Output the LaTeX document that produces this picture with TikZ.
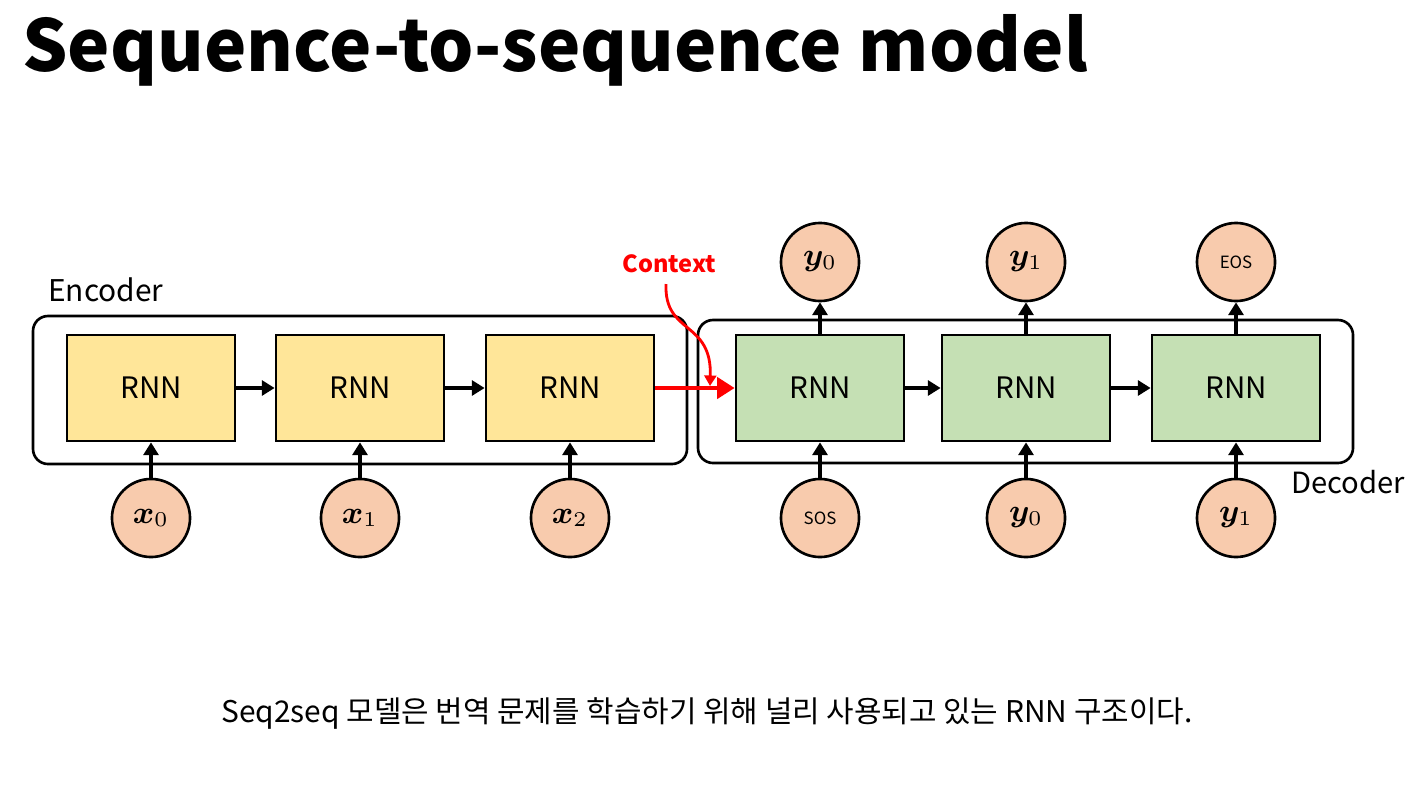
\documentclass[tikz,border=0pt]{standalone}
\usepackage{fontspec}
\setmainfont{Noto Sans CJK KR}
\usepackage{amsmath}
\usepackage{bm}
\usetikzlibrary{arrows.meta}

\definecolor{encfill}{HTML}{FFE699}
\definecolor{decfill}{HTML}{C5E0B4}
\definecolor{tokfill}{HTML}{F8CBAD}

\begin{document}
\begin{tikzpicture}[x=0.01cm,y=-0.01cm,line width=0.75pt,>=Triangle,
  rnn/.style={draw,minimum width=1.68cm,minimum height=1.06cm,inner sep=0pt,
              font=\fontsize{8.4}{10}\selectfont},
  tok/.style={draw,circle,fill=tokfill,minimum size=0.78cm,inner sep=0pt,
              font=\fontsize{9}{11}\selectfont},
  small/.style={font=\fontsize{4.8}{6}\selectfont},
  arr/.style={line width=1.2pt,-{Triangle[length=3.6pt,width=4.2pt]}},
  frame/.style={rounded corners=0.15cm}]
\useasboundingbox (0,0) rectangle (1410,803);
% ---- title ----
\node[anchor=base west,inner sep=0pt,font=\fontsize{20.3}{24}\selectfont\bfseries]
  (title) at (21,71) {Sequence-to-sequence model};
% ---- encoder: x_i -> RNN -> RNN -> RNN ----
\draw[frame] (33,316) rectangle (687,464);
\node[anchor=base west,inner sep=0pt,font=\fontsize{8.5}{10}\selectfont]
  (enclabel) at (47,301) {Encoder};
\foreach \i/\x in {0/151,1/360,2/570}{
  \node[rnn,fill=encfill] (e\i) at (\x,388) {RNN};
  \node[tok] (x\i) at (\x,518) {$\bm{x}_{\i}$};
  \draw[arr] (x\i) -- (e\i);
}
\foreach \i/\j in {0/1,1/2}{\draw[arr] (e\i) -- (e\j);}
% ---- decoder: SOS, y_0, y_1 in / y_0, y_1, EOS out ----
\draw[frame] (698,320) rectangle (1353,463);
\node[anchor=base west,inner sep=0pt,font=\fontsize{8.3}{10}\selectfont]
  (declabel) at (1290,493) {Decoder};
\foreach \i/\x in {0/820,1/1026,2/1236}{
  \node[rnn,fill=decfill] (d\i) at (\x,388) {RNN};
}
\node[tok,small] (in0) at (820,518) {SOS};
\node[tok] (in1) at (1026,518) {$\bm{y}_0$};
\node[tok] (in2) at (1236,518) {$\bm{y}_1$};
\node[tok] (out0) at (820,262) {$\bm{y}_0$};
\node[tok] (out1) at (1026,262) {$\bm{y}_1$};
\node[tok,small] (out2) at (1236,262) {EOS};
\foreach \i in {0,1,2}{
  \draw[arr] (in\i) -- (d\i);
  \draw[arr] (d\i) -- (out\i);
}
\foreach \i/\j in {0/1,1/2}{\draw[arr] (d\i) -- (d\j);}
% ---- context vector ----
\draw[arr,red,-{Triangle[length=5pt,width=6pt]}] (e2) -- (d0);
\node[anchor=base west,inner sep=0pt,red,font=\fontsize{6.7}{9}\selectfont\bfseries]
  (ctx) at (621,272) {Context};
\coordinate (ctxend) at (710,386);
\draw[red,line width=0.8pt,-{Triangle[length=3pt,width=3.4pt]}]
  (666,284) .. controls (664,335) and (712,320) .. (ctxend);
% ---- caption ----
\node[anchor=base west,inner sep=0pt,font=\fontsize{8.5}{10}\selectfont]
  (caption) at (220,722) {Seq2seq 모델은 번역 문제를 학습하기 위해 널리 사용되고 있는 RNN 구조이다.};
\end{tikzpicture}
\end{document}
